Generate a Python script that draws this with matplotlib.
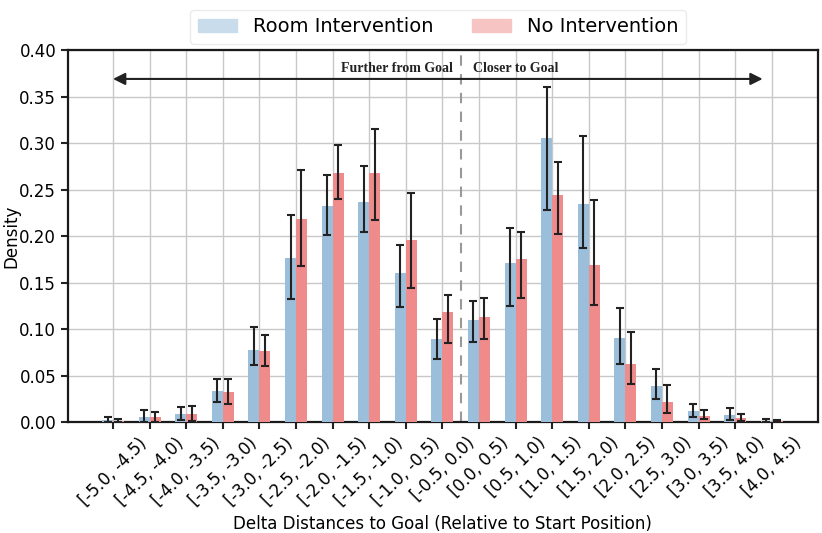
import matplotlib.pyplot as plt
import numpy as np
from matplotlib.patches import Patch

# bins of the change in distance to goal
bins = ["[-5.0, -4.5)", "[-4.5, -4.0)", "[-4.0, -3.5)", "[-3.5, -3.0)", "[-3.0, -2.5)",
        "[-2.5, -2.0)", "[-2.0, -1.5)", "[-1.5, -1.0)", "[-1.0, -0.5)", "[-0.5, 0.0)",
        "[0.0, 0.5)", "[0.5, 1.0)", "[1.0, 1.5)", "[1.5, 2.0)", "[2.0, 2.5)",
        "[2.5, 3.0)", "[3.0, 3.5)", "[3.5, 4.0)", "[4.0, 4.5)"]

room = [0.002, 0.005, 0.009, 0.034, 0.078, 0.176, 0.232, 0.237, 0.160, 0.089,
        0.110, 0.171, 0.305, 0.234, 0.090, 0.039, 0.012, 0.008, 0.001]
room_lo = [0.000, 0.000, 0.002, 0.022, 0.061, 0.132, 0.201, 0.204, 0.124, 0.068,
           0.086, 0.125, 0.228, 0.187, 0.063, 0.025, 0.005, 0.002, 0.000]
room_hi = [0.005, 0.013, 0.016, 0.046, 0.102, 0.223, 0.266, 0.275, 0.190, 0.111,
           0.130, 0.209, 0.360, 0.308, 0.123, 0.057, 0.020, 0.015, 0.003]

noint = [0.001, 0.005, 0.009, 0.032, 0.077, 0.218, 0.268, 0.268, 0.196, 0.118,
         0.113, 0.175, 0.244, 0.169, 0.063, 0.022, 0.007, 0.004, 0.001]
noint_lo = [0.000, 0.000, 0.001, 0.020, 0.060, 0.168, 0.240, 0.217, 0.144, 0.085,
            0.089, 0.134, 0.202, 0.126, 0.041, 0.010, 0.003, 0.001, 0.000]
noint_hi = [0.003, 0.011, 0.017, 0.046, 0.094, 0.271, 0.298, 0.315, 0.246, 0.137,
            0.133, 0.204, 0.280, 0.239, 0.097, 0.040, 0.013, 0.009, 0.002]

blue = "#9bbedb"
red = "#f08b8b"

plt.rcParams['font.family'] = ['DejaVu Sans']
fig = plt.figure(figsize=(8.22, 5.33), dpi=100)
ax = fig.add_axes([0.0827, 0.208, 0.9123, 0.698])

x = np.arange(len(bins))
w = 0.3
room = np.array(room)
noint = np.array(noint)
err_kw = dict(ecolor="#222222", elinewidth=1.5, capsize=2.6, capthick=1.5)
ax.bar(x - w / 2, room, w, color=blue, zorder=3,
       yerr=[room - np.array(room_lo), np.array(room_hi) - room], error_kw=err_kw)
ax.bar(x + w / 2, noint, w, color=red, zorder=3,
       yerr=[noint - np.array(noint_lo), np.array(noint_hi) - noint], error_kw=err_kw)

ax.set_xlim(-1.23, 18 + 1.26)
ax.set_ylim(0, 0.40)
ax.set_yticks(np.arange(0, 0.41, 0.05))
ax.set_xticks(x)
ax.set_xticklabels(bins, rotation=45)
ax.grid(True, color="#c8c8c8", linewidth=1, zorder=0)
ax.set_axisbelow(True)
ax.tick_params(axis="both", labelsize=12, length=5, width=1.5, color="#222222")
for s in ax.spines.values():
    s.set_linewidth(1.6)
    s.set_color("#1a1a1a")

ax.set_xlabel("Delta Distances to Goal (Relative to Start Position)", fontsize=12)
ax.set_ylabel("Density", fontsize=12)
ax.yaxis.set_label_coords(-0.064, 0.5)

# split between further / closer
ax.axvline(9.5, color="#999999", linestyle=(0, (5, 4)), linewidth=1.5, zorder=2)
ax.annotate("", xy=(0, 0.369), xytext=(17.75, 0.369),
            arrowprops=dict(arrowstyle="<|-|>", color="#222222", lw=1.5,
                            mutation_scale=18, shrinkA=0, shrinkB=0))
ax.text(9.3, 0.373, "Further from Goal", ha="right", va="bottom",
        fontsize=10, fontweight="bold", family="Liberation Serif", color="#222222")
ax.text(9.83, 0.373, "Closer to Goal", ha="left", va="bottom",
        fontsize=10, fontweight="bold", family="Liberation Serif", color="#222222")

handles = [Patch(color="#c9dcec", label="Room Intervention"),
           Patch(color="#f7c4c4", label="No Intervention")]
fig.legend(handles=handles, loc="upper center", bbox_to_anchor=(0.533, 1.0),
           ncol=2, fontsize=14, frameon=True, edgecolor="#e6e6e6", fancybox=True)

fig.savefig("out.png", dpi=100)
